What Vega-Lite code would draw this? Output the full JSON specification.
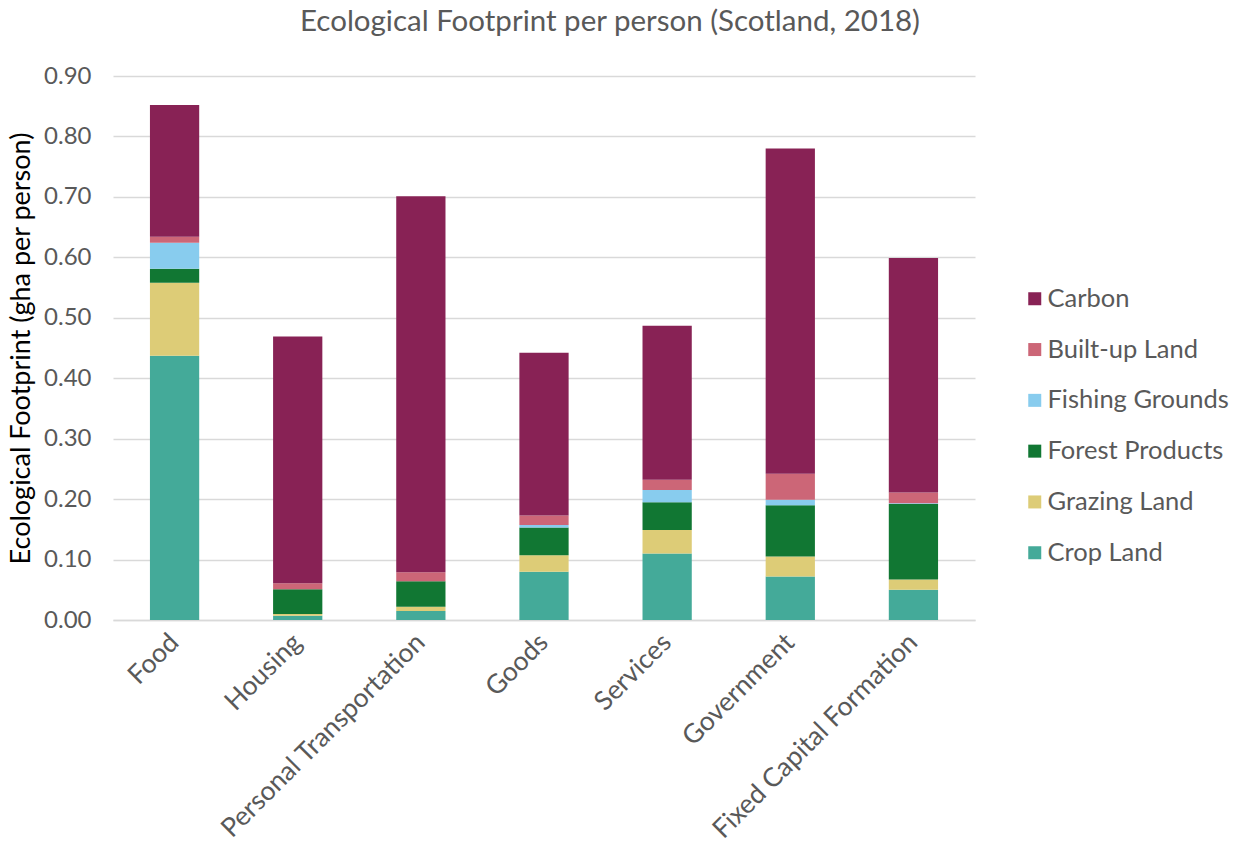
{
  "$schema": "https://vega.github.io/schema/vega-lite/v6.json",
  "autosize": {"type": "none"},
  "padding": {"left": 113, "top": 76, "right": 262, "bottom": 241},
  "width": 862,
  "height": 544,
  "background": "white",
  "title": {
    "text": "Ecological Footprint per person (Scotland, 2018)",
    "font": "Lato",
    "fontSize": 29.5,
    "fontWeight": "normal",
    "color": "#595959",
    "anchor": "middle",
    "dx": 66,
    "offset": 27
  },
  "data": {
    "values": [
      {"category": "Food", "type": "Crop Land", "rank": 1, "value": 0.437},
      {"category": "Food", "type": "Grazing Land", "rank": 2, "value": 0.121},
      {"category": "Food", "type": "Forest Products", "rank": 3, "value": 0.023},
      {"category": "Food", "type": "Fishing Grounds", "rank": 4, "value": 0.043},
      {"category": "Food", "type": "Built-up Land", "rank": 5, "value": 0.010},
      {"category": "Food", "type": "Carbon", "rank": 6, "value": 0.218},
      {"category": "Housing", "type": "Crop Land", "rank": 1, "value": 0.007},
      {"category": "Housing", "type": "Grazing Land", "rank": 2, "value": 0.003},
      {"category": "Housing", "type": "Forest Products", "rank": 3, "value": 0.041},
      {"category": "Housing", "type": "Fishing Grounds", "rank": 4, "value": 0.0},
      {"category": "Housing", "type": "Built-up Land", "rank": 5, "value": 0.010},
      {"category": "Housing", "type": "Carbon", "rank": 6, "value": 0.408},
      {"category": "Personal Transportation", "type": "Crop Land", "rank": 1, "value": 0.015},
      {"category": "Personal Transportation", "type": "Grazing Land", "rank": 2, "value": 0.007},
      {"category": "Personal Transportation", "type": "Forest Products", "rank": 3, "value": 0.042},
      {"category": "Personal Transportation", "type": "Fishing Grounds", "rank": 4, "value": 0.0},
      {"category": "Personal Transportation", "type": "Built-up Land", "rank": 5, "value": 0.015},
      {"category": "Personal Transportation", "type": "Carbon", "rank": 6, "value": 0.622},
      {"category": "Goods", "type": "Crop Land", "rank": 1, "value": 0.080},
      {"category": "Goods", "type": "Grazing Land", "rank": 2, "value": 0.027},
      {"category": "Goods", "type": "Forest Products", "rank": 3, "value": 0.046},
      {"category": "Goods", "type": "Fishing Grounds", "rank": 4, "value": 0.004},
      {"category": "Goods", "type": "Built-up Land", "rank": 5, "value": 0.016},
      {"category": "Goods", "type": "Carbon", "rank": 6, "value": 0.269},
      {"category": "Services", "type": "Crop Land", "rank": 1, "value": 0.110},
      {"category": "Services", "type": "Grazing Land", "rank": 2, "value": 0.039},
      {"category": "Services", "type": "Forest Products", "rank": 3, "value": 0.046},
      {"category": "Services", "type": "Fishing Grounds", "rank": 4, "value": 0.020},
      {"category": "Services", "type": "Built-up Land", "rank": 5, "value": 0.017},
      {"category": "Services", "type": "Carbon", "rank": 6, "value": 0.255},
      {"category": "Government", "type": "Crop Land", "rank": 1, "value": 0.072},
      {"category": "Government", "type": "Grazing Land", "rank": 2, "value": 0.033},
      {"category": "Government", "type": "Forest Products", "rank": 3, "value": 0.085},
      {"category": "Government", "type": "Fishing Grounds", "rank": 4, "value": 0.009},
      {"category": "Government", "type": "Built-up Land", "rank": 5, "value": 0.043},
      {"category": "Government", "type": "Carbon", "rank": 6, "value": 0.538},
      {"category": "Fixed Capital Formation", "type": "Crop Land", "rank": 1, "value": 0.050},
      {"category": "Fixed Capital Formation", "type": "Grazing Land", "rank": 2, "value": 0.017},
      {"category": "Fixed Capital Formation", "type": "Forest Products", "rank": 3, "value": 0.125},
      {"category": "Fixed Capital Formation", "type": "Fishing Grounds", "rank": 4, "value": 0.001},
      {"category": "Fixed Capital Formation", "type": "Built-up Land", "rank": 5, "value": 0.018},
      {"category": "Fixed Capital Formation", "type": "Carbon", "rank": 6, "value": 0.388}
    ]
  },
  "mark": {"type": "bar"},
  "encoding": {
    "x": {
      "field": "category",
      "type": "nominal",
      "sort": null,
      "scale": {"paddingInner": 0.6, "paddingOuter": 0.3},
      "axis": {
        "title": null,
        "labelAngle": -45,
        "labelAlign": "right",
        "labelBaseline": "middle",
        "labelFont": "Lato",
        "labelFontSize": 26.5,
        "labelColor": "#595959",
        "labelPadding": 18,
        "labelLimit": 400,
        "ticks": false,
        "domainColor": "#D9D9D9",
        "domainWidth": 1.5,
        "grid": false
      }
    },
    "y": {
      "field": "value",
      "type": "quantitative",
      "stack": "zero",
      "scale": {"domain": [0, 0.9], "nice": false},
      "axis": {
        "title": "Ecological Footprint (gha per person)",
        "titleFont": "Lato",
        "titleFontSize": 27,
        "titleFontWeight": "normal",
        "titleColor": "#000000",
        "titleX": -105,
        "titleY": 272,
        "titleAlign": "center",
        "titleBaseline": "top",
        "titleAngle": -90,
        "values": [0, 0.1, 0.2, 0.3, 0.4, 0.5, 0.6, 0.7, 0.8, 0.9],
        "format": ".2f",
        "labelFont": "Lato",
        "labelFontSize": 24,
        "labelColor": "#595959",
        "labelPadding": 22,
        "ticks": false,
        "domain": false,
        "gridColor": "#D9D9D9",
        "gridWidth": 1.5
      }
    },
    "color": {
      "field": "type",
      "type": "nominal",
      "scale": {
        "domain": ["Carbon", "Built-up Land", "Fishing Grounds", "Forest Products", "Grazing Land", "Crop Land"],
        "range": ["#882255", "#CC6677", "#88CCEE", "#117733", "#DDCC77", "#44AA99"]
      },
      "legend": {
        "title": null,
        "orient": "none",
        "legendX": 909,
        "legendY": 210,
        "symbolType": "square",
        "symbolSize": 169,
        "symbolStrokeWidth": 0,
        "labelFont": "Lato",
        "labelFontSize": 25.5,
        "labelColor": "#595959",
        "labelOffset": 0,
        "labelLimit": 300,
        "rowPadding": 23.8
      }
    },
    "order": {"field": "rank", "type": "quantitative", "sort": "ascending"}
  },
  "config": {
    "view": {"stroke": null}
  }
}
